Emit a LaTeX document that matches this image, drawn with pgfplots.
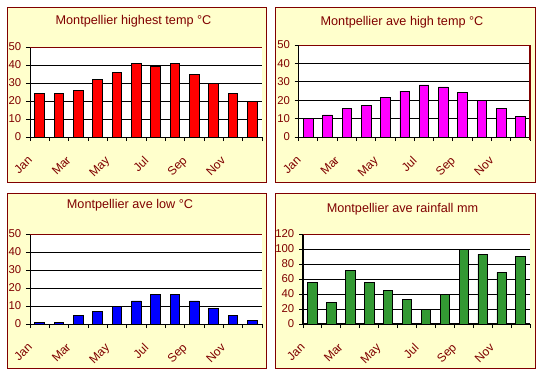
\documentclass[border=0pt]{standalone}
\usepackage{pgfplots}
\pgfplotsset{compat=1.18}
\usepackage{fontspec}
\setmainfont{Liberation Sans}
\definecolor{dred}{HTML}{800000}
\definecolor{panel}{HTML}{FFFFCC}
\definecolor{xgreen}{HTML}{339933}
\definecolor{xmag}{HTML}{FF00FF}
\definecolor{xred}{HTML}{FF0000}
\definecolor{xblue}{HTML}{0000FF}
\pgfplotsset{
  mych/.style={
    scale only axis,
    anchor=south west,
    xmin=0.5, xmax=12.5,
    ymin=0,
    axis background/.style={fill=white},
    axis lines=left,
    axis line style={-, black, line width=0.75pt},
    every outer x axis line/.append style={-},
    every outer y axis line/.append style={-},
    ymajorgrids,
    grid style={black, line width=0.75pt},
    xtick={1,3,5,7,9,11},
    xticklabels={Jan,Mar,May,Jul,Sep,Nov},
    minor xtick={0.5,1.5,...,12.5},
    major x tick style={draw=none},
    minor x tick style={draw=black, line width=0.75pt},
    tick align=outside,
    major tick length=3pt,
    minor tick length=3pt,
    ytick style={black, line width=0.75pt},
    ticklabel style={font=\fontsize{8.5}{10}\selectfont, text=dred},
    /pgf/number format/assume math mode=true,
    xticklabel style={font=\fontsize{9}{10}\selectfont, xshift=-9.5pt, yshift=-10.5pt, rotate=45, anchor=north east, inner sep=0pt},
    ybar, bar width=0.5,
    every axis plot/.append style={draw=black, line width=0.6pt},
    clip=false,
  }
}
\begin{document}
\begin{tikzpicture}[x=0.75pt,y=0.75pt]
\path[use as bounding box, fill=white] (0,0) rectangle (538,376);
\draw[dred, fill=panel, line width=0.75pt] (7,194) rectangle (266,369);
\draw[dred, fill=panel, line width=0.75pt] (275,194) rectangle (535,369);
\draw[dred, fill=panel, line width=0.75pt] (7,8) rectangle (266,183);
\draw[dred, fill=panel, line width=0.75pt] (275,8) rectangle (535,183);
\node[text=dred, font=\fontsize{9.5}{11}\selectfont] at (133.5,355) {Montpellier highest temp °C};
\node[text=dred, font=\fontsize{9.5}{11}\selectfont] at (402,354) {Montpellier ave high temp °C};
\node[text=dred, font=\fontsize{9.5}{11}\selectfont] at (130,171) {Montpellier ave low °C};
\node[text=dred, font=\fontsize{9.5}{11}\selectfont] at (402.5,167) {Montpellier ave rainfall mm};

% Panel 1
\begin{axis}[mych, at={(22.5pt,179.25pt)}, width=174pt, height=67.5pt,
  ymax=50, ytick={0,10,...,50}]
\addplot[fill=xred] coordinates {(1,24) (2,24) (3,26) (4,32) (5,36) (6,41) (7,39) (8,41) (9,35) (10,30) (11,24) (12,20)};
\draw[dred, line width=0.75pt] (rel axis cs:0,1) -- (rel axis cs:1,1);
\end{axis}

% Panel 2
\begin{axis}[mych, at={(224.025pt,179.25pt)}, width=173.5pt, height=69pt,
  ymax=50, ytick={0,10,...,50}]
\addplot[fill=xmag] coordinates {(1,10) (2,12) (3,15.3) (4,17) (5,21.3) (6,25) (7,28.3) (8,27.2) (9,24) (10,20) (11,15.3) (12,11)};
\draw[dred, line width=0.75pt] (rel axis cs:0,1) -- (rel axis cs:1,1);
\draw[dred, line width=1pt] (rel axis cs:1,1) -- (rel axis cs:1,-0.03);
\end{axis}

% Panel 3
\begin{axis}[mych, at={(22.5pt,39pt)}, width=174pt, height=67.5pt,
  ymax=50, ytick={0,10,...,50}]
\addplot[fill=xblue] coordinates {(1,1) (2,1) (3,5) (4,7.2) (5,9.7) (6,12.8) (7,16.2) (8,16.2) (9,12.8) (10,8.8) (11,5) (12,2)};
\draw[dred, line width=0.75pt] (rel axis cs:0,1) -- (rel axis cs:1,1);
\end{axis}

% Panel 4
\begin{axis}[mych, at={(227.25pt,39pt)}, width=170.25pt, height=67.5pt,
  ymax=120, ytick={0,20,...,120}, axis line style={-, black, line width=1.2pt}]
\addplot[fill=xgreen] coordinates {(1,56) (2,29) (3,72) (4,56) (5,45) (6,33) (7,19) (8,40) (9,100) (10,93) (11,69) (12,90)};
\draw[dred, line width=0.75pt] (rel axis cs:0,1) -- (rel axis cs:1,1);
\end{axis}
\end{tikzpicture}
\end{document}
